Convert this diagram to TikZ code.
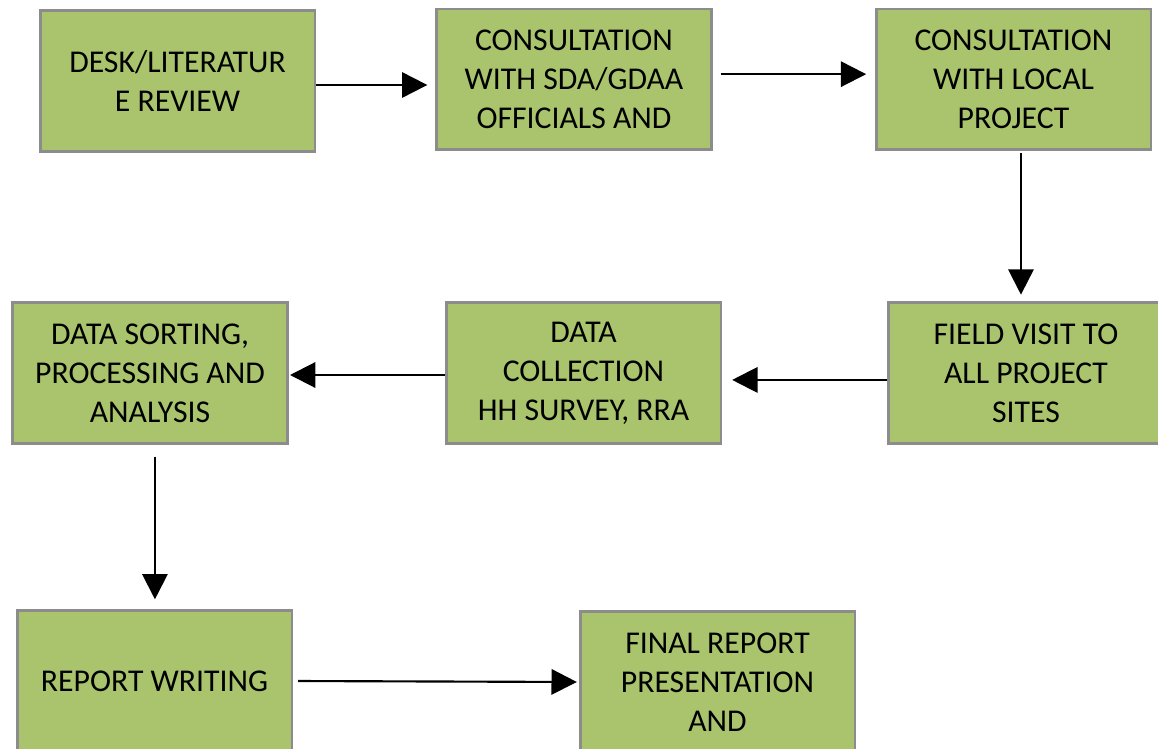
\documentclass[tikz,border=0pt]{standalone}
\usepackage{fontspec}
\setmainfont{Carlito}
\usetikzlibrary{arrows.meta}
\definecolor{stagegreen}{HTML}{A9C46C}
\definecolor{stageline}{HTML}{8C8C8C}
\tikzset{
    stage/.style={draw=stageline, line width=2pt, fill=stagegreen, minimum width=206pt,
        minimum height=105.5pt, align=center, inner sep=0pt,
        font=\fontsize{23.8}{29.3}\selectfont},
    flow/.style={line width=1.6pt, -{Triangle[length=19pt,width=19pt]}}
}
\begin{document}
\begin{tikzpicture}[x=0.75pt,y=-0.75pt]
        \useasboundingbox (0,0) rectangle (1158,749);
        \clip (0,0) rectangle (1158,749);
        \fill[white] (0,0) rectangle (1158,749);

        \node[stage] (desk) at (177.5,81) {DESK/LITERATUR\\E REVIEW};
        \node[stage] (sda) at (574,79.5) {CONSULTATION\\WITH SDA/GDAA\\OFFICIALS AND};
        \node[stage] (local) at (1013.5,79.5) {CONSULTATION\\WITH LOCAL\\PROJECT};
        \node[stage] (field) at (1026,373) {FIELD VISIT TO\\ALL PROJECT\\SITES};
        \node[stage] (collect) at (583.5,373) {DATA\\COLLECTION\\HH SURVEY, RRA};
        \node[stage] (sort) at (150,373) {DATA SORTING,\\PROCESSING AND\\ANALYSIS};
        \node[stage] (writing) at (154.5,681) {REPORT WRITING};
        \node[stage] (final) at (717.5,682) {FINAL REPORT\\PRESENTATION\\AND};

        \draw[flow, shorten >=6pt] ([yshift=-3pt]desk.east) -- ([yshift=-3pt]desk.east -| sda.west);
        \draw[flow, shorten <=6pt, shorten >=6.5pt] ([yshift=4pt]sda.east) -- ([yshift=4pt]sda.east -| local.west);
        \draw[flow, shorten <=1.5pt, shorten >=5pt] ([xshift=5.6pt]local.south) -- ([xshift=5.6pt]local.south |- field.north);
        \draw[flow, shorten >=7.5pt] ([yshift=-5.2pt]field.west) -- ([yshift=-5.2pt]field.west -| collect.east);
        \draw[flow, shorten >=1pt] ([yshift=-1.5pt]collect.west) -- ([yshift=-1.5pt]collect.west -| sort.east);
        \draw[flow, shorten <=9pt, shorten >=7.5pt] ([xshift=3.7pt]sort.south) -- ([xshift=3.7pt]sort.south |- writing.north);
        \draw[flow, shorten <=3.7pt, shorten >=1.5pt] (writing.east) -- (final.west);
    \end{tikzpicture}
\end{document}
